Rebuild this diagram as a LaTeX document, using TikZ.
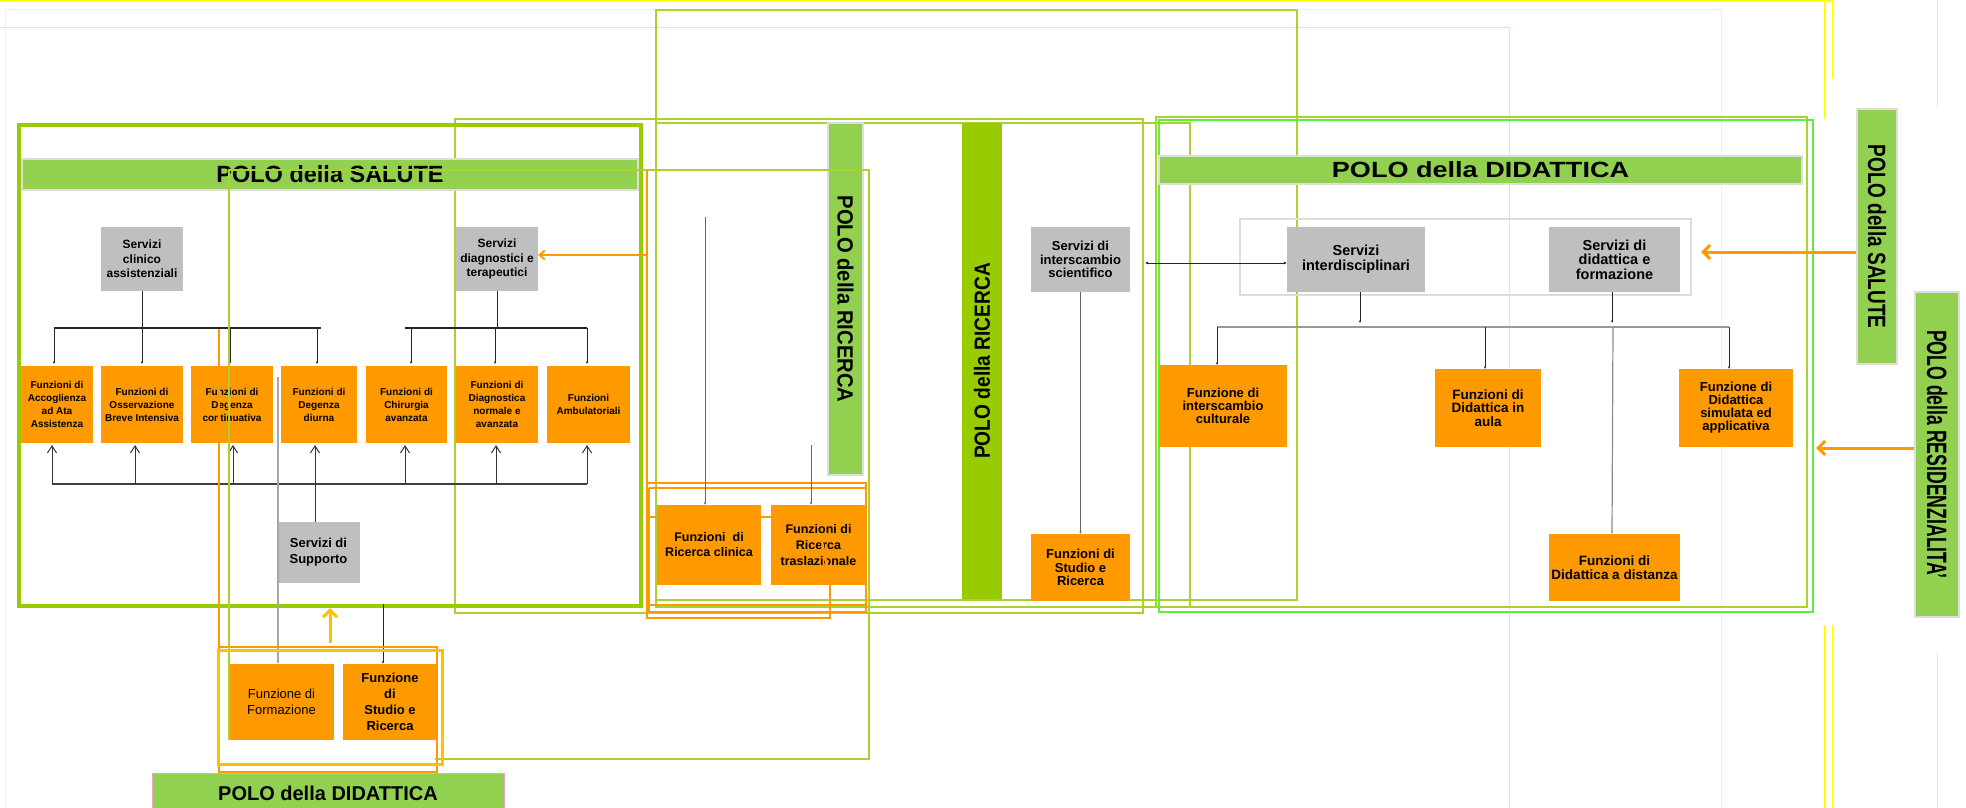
\documentclass[tikz,border=0pt]{standalone}
\usepackage{graphicx}
\usepackage{fontspec}
\setmainfont{Liberation Sans}
\usetikzlibrary{arrows.meta}
\definecolor{org}{HTML}{FF9900}
\definecolor{gbox}{HTML}{BFBFBF}
\definecolor{tgreen}{HTML}{92D050}
\definecolor{dgreen}{HTML}{99CC00}
\definecolor{yg}{HTML}{A9D12F}
\definecolor{lime}{HTML}{5CF03C}
\definecolor{yel}{HTML}{FFFF00}
\definecolor{pyel}{HTML}{FFFF70}
\definecolor{amber}{HTML}{FFC000}
\definecolor{pinkb}{HTML}{F4A0C8}
\definecolor{lgray}{HTML}{DDDDDD}
\newcommand{\fsz}[2]{\fontsize{#1}{#2}\selectfont}
\begin{document}
\begin{tikzpicture}[x=1pt,y=-1pt,
  gb/.style={fill=gbox, inner sep=0pt, align=center, font=\bfseries\fsz{12}{14.5}},
  ob/.style={fill=org, inner sep=0pt, align=center, font=\bfseries\fsz{10}{13}},
  conn/.style={draw=black!85, line width=0.8pt},
  tinyarr/.style={conn, -{Latex[length=2.5pt,width=2.5pt]}},
  uparr/.style={draw=black!80, line width=1pt, -{Straight Barb[length=7pt,width=9pt]}},
  bigarr/.style={line width=3pt, -{Straight Barb[length=7pt,width=14pt]}},
  bar/.style={fill=tgreen, draw=lgray, line width=2pt, inner sep=0pt},
  frameline/.style={line width=1.5pt},
]
\useasboundingbox (0,0) rectangle (1966,808);
\fill[white] (0,0) rectangle (1966,808);

% ---------- yellow frames
\draw[yel, line width=2.5pt] (0,1.2) -- (1832,1.2);
\draw[pyel, line width=1pt] (5,808) -- (5,10) -- (1721,10) -- (1721,808);
\draw[yel, line width=1pt] (0,28) -- (1509,28) -- (1509,808);
\draw[yel, line width=2pt] (1825,0) -- (1825,119) (1825,625) -- (1825,808);
\draw[yel, line width=1pt] (1832,0) -- (1832,79) (1832,625) -- (1832,808)
  (1937,0) -- (1937,107) (1937,653) -- (1937,808);

% ---------- green frames
\draw[yg, frameline] (656,10) rectangle (1297,600);
\draw[yg, frameline] (455,119) rectangle (1143,613);
\draw[yg, frameline] (656,123) rectangle (1190,607);
\draw[yg, frameline] (1156,117) rectangle (1807,607);
\draw[lime, line width=1.2pt] (1159,120) rectangle (1813,612);

% ---------- Salute frame
\draw[dgreen, line width=4pt] (19,125) rectangle (641,606);

% ---------- orange frames round Ricerca
\draw[org, line width=2.5pt] (647,170) -- (647,618) -- (830,618) -- (830,585);
\draw[org, line width=2.5pt] (647,483) -- (866,483) -- (866,612) -- (649,612);
\draw[org, line width=2pt] (649,488) -- (865,488) (649,488) -- (649,612)
  (649,517) -- (865,517) (649,605) -- (865,605);

% ---------- bars
\node[bar, minimum width=616, minimum height=31, font=\bfseries\fsz{23.5}{26}] (tsal) at (330,174.5) {POLO della SALUTE};
\node[bar, minimum width=643, minimum height=28, font=\bfseries\fsz{22}{24}] (tdid) at (1480.5,170) {\scalebox{1.23}[1]{POLO della DIDATTICA}};
\node[fill=tgreen, draw=pinkb, line width=1pt, inner sep=0pt, minimum width=352, minimum height=40, font=\bfseries\fsz{20}{22}] (bdid) at (328,793) {POLO della DIDATTICA};
\node[bar, minimum width=35, minimum height=352] (ric1) at (845.5,299) {};
\node[rotate=-90, font=\bfseries\fsz{22}{24}] (ric1t) at (ric1.center) {\scalebox{0.92}[1]{POLO della RICERCA}};
\node[fill=dgreen, inner sep=0pt, minimum width=40, minimum height=476] (ric2) at (982,361) {};
\node[rotate=90, font=\bfseries\fsz{22}{24}] (ric2t) at (ric2.center) {\scalebox{0.87}[1]{POLO della RICERCA}};
\node[bar, minimum width=40, minimum height=255] (rsal) at (1877,236.5) {};
\node[rotate=-90, font=\bfseries\fsz{25}{27}] (rsalt) at (rsal.center) {\scalebox{0.76}[1]{POLO della SALUTE}};
\node[bar, minimum width=44, minimum height=325] (rres) at (1937,454.5) {};
\node[rotate=-90, font=\bfseries\fsz{28}{30}] (rrest) at (rres.center) {\scalebox{0.63}[1]{POLO della RESIDENZIALITA’}};

% ---------- light gray enclosure
\draw[lgray, line width=1.5pt] (1240,219) rectangle (1691,295);

% ---------- Salute boxes
\node[gb, minimum width=82, minimum height=64] (clin) at (142,259) {Servizi\\clinico\\assistenziali};
\node[gb, minimum width=82, minimum height=64] (diag) at (497,259) {Servizi\\diagnostici e\\terapeutici};
\node[ob, minimum width=72, minimum height=77] (o1) at (57,404.5) {Funzioni di\\Accoglienza\\ad Ata\\Assistenza};
\node[ob, minimum width=82, minimum height=77] (o2) at (142,404.5) {Funzioni di\\Osservazione\\Breve Intensiva};
\node[ob, minimum width=82, minimum height=77] (o3) at (232,404.5) {Funzioni di\\Degenza\\continuativa};
\node[ob, minimum width=76, minimum height=77] (o4) at (319,404.5) {Funzioni di\\Degenza\\diurna};
\node[ob, minimum width=81, minimum height=77] (o5) at (406.5,404.5) {Funzioni di\\Chirurgia\\avanzata};
\node[ob, minimum width=82, minimum height=77] (o6) at (497,404.5) {Funzioni di\\Diagnostica\\normale e\\avanzata};
\node[ob, minimum width=83, minimum height=77] (o7) at (588.5,404.5) {Funzioni\\Ambulatoriali};
\node[gb, minimum width=83, minimum height=61, font=\bfseries\fsz{13}{16}] (supp) at (318.5,552.5) {Servizi di\\Supporto};
\node[ob, minimum width=105, minimum height=76, font=\fsz{13}{16}] (form) at (281.5,702) {Funzione di\\Formazione};
\node[ob, minimum width=94, minimum height=76, font=\bfseries\fsz{13}{16}] (stud1) at (390,702) {Funzione\\di\\Studio e\\Ricerca};

% ---------- Ricerca boxes
\node[ob, minimum width=104, minimum height=80, font=\bfseries\fsz{12.5}{15}] (rclin) at (709,545) {Funzioni\ \ di\\Ricerca clinica};
\node[ob, minimum width=95, minimum height=80, font=\bfseries\fsz{12.5}{16}] (rtras) at (818.5,545) {Funzioni di\\Ricerca\\traslazionale};
\node[gb, minimum width=99, minimum height=65, font=\bfseries\fsz{13}{13.5}] (isci) at (1080.5,259.5) {Servizi di\\interscambio\\scientifico};
\node[ob, minimum width=99, minimum height=67, font=\bfseries\fsz{13}{13.5}] (stud2) at (1080.5,567.5) {Funzioni di\\Studio e\\Ricerca};

% ---------- Didattica boxes
\node[gb, minimum width=138, minimum height=65, font=\bfseries\fsz{14.5}{15}] (idis) at (1356,259.5) {Servizi\\interdisciplinari};
\node[gb, minimum width=131, minimum height=65, font=\bfseries\fsz{14.5}{14.5}] (dform) at (1614.5,259.5) {Servizi di\\didattica e\\formazione};
\node[ob, minimum width=128, minimum height=82, font=\bfseries\fsz{13}{13}] (icul) at (1223,406) {Funzione di\\interscambio\\culturale};
\node[ob, minimum width=106, minimum height=78, font=\bfseries\fsz{13.5}{13.5}] (aula) at (1488,408) {Funzioni di\\Didattica in\\aula};
\node[ob, minimum width=114, minimum height=78, font=\bfseries\fsz{13}{13}] (simu) at (1736,408) {Funzione di\\Didattica\\simulata ed\\applicativa};
\node[ob, minimum width=131, minimum height=67, font=\bfseries\fsz{13.5}{13.5}] (dist) at (1614.5,567.5) {Funzioni di\\Didattica a distanza};

% ---------- Salute trees
\coordinate (tl) at (54,328); \coordinate (tr) at (321,328);
\draw[conn, line width=1.2pt] (tl) -- (tr);
\draw[conn] (clin.south) -- (clin.south |- tl);
\foreach \x/\n in {54/o1,142/o2,230/o3,317/o4}
  \draw[tinyarr] (\x,328) -- (\x,364);
\coordinate (rl) at (405,328); \coordinate (rr) at (587,328);
\draw[conn, line width=1.2pt] (rl) -- (rr);
\draw[conn] (diag.south) -- (diag.south |- rl);
\foreach \x in {411,495,587}
  \draw[tinyarr] (\x,328) -- (\x,364);

% bus from Servizi di Supporto
\coordinate (busl) at (52,484); \coordinate (busr) at (587,484);
\draw[draw=black!75, line width=1.5pt] (busl) -- (busr);
\draw[draw=black!80, line width=1pt] (supp.north -| 315,0) -- (315,484);
\foreach \x/\n in {52/o1,135/o2,233/o3,315/o4,405/o5,496/o6,587/o7}
  \draw[uparr] (\x,484) -- (\x,445);

% orange arrow into Servizi diagnostici
\coordinate (oa) at (647,255);
\draw[org, line width=2pt, -{Straight Barb[length=5pt,width=9pt]}] (oa) -- (oa -| diag.east);

% supporto / formazione lines
\draw[draw=black!35, line width=1.5pt, -{Latex[length=3pt,width=3pt]}] (278,377) -- (278,664);
\draw[tinyarr] (383,604) -- (stud1.north -| 383,0);

% yellow arrow up
\draw[amber, bigarr] (330,643) -- (330,608);

% ---------- Ricerca connectors
\draw[draw=black!60, line width=0.8pt, -{Latex[length=2.5pt,width=2.5pt]}] (705,217) -- (rclin.north -| 705,0);
\draw[draw=black!60, line width=0.8pt, -{Latex[length=2.5pt,width=2.5pt]}] (811,445) -- (rtras.north -| 811,0);
\draw[draw=black!60, line width=0.8pt, -{Latex[length=2.5pt,width=2.5pt]}] (isci.south) -- (stud2.north);
\coordinate (da) at (1145,263);
\draw[conn, {Latex[length=3pt,width=3pt]}-{Latex[length=3pt,width=3pt]}] (da) -- (da -| idis.west);

% ---------- Didattica tree
\draw[tinyarr] (1360,292) -- (1360,323);
\draw[tinyarr] (1612,292) -- (1612,323);
\draw[draw=black!40, line width=1.5pt] (1217,327) -- (1729,327);
\draw[tinyarr] (1217,327) -- (1217,365);
\draw[tinyarr] (1485,327) -- (1485,369);
\draw[tinyarr] (1729,327) -- (1729,369);
\draw[draw=black!45, line width=1.2pt, -{Latex[length=2.5pt,width=2.5pt]}] (1613,327) -- (1612,534);

% orange arrows from the right bars
\draw[org, bigarr] (rsal.west |- 0,252) -- (1701,252);
\draw[org, bigarr] (rres.west |- 0,448) -- (1816,448);

% ---------- overlays
\draw[org, line width=2.5pt] (219,329) -- (219,772) -- (437,772) -- (437,647) -- (219,647);
\draw[yg, frameline] (229,740) -- (229,170) -- (869,170) -- (869,759) -- (435,759);
\draw[amber, line width=3pt] (218,650) rectangle (442,764);
\draw[org, line width=2.5pt] (821,537) -- (828,572);
\end{tikzpicture}
\end{document}
